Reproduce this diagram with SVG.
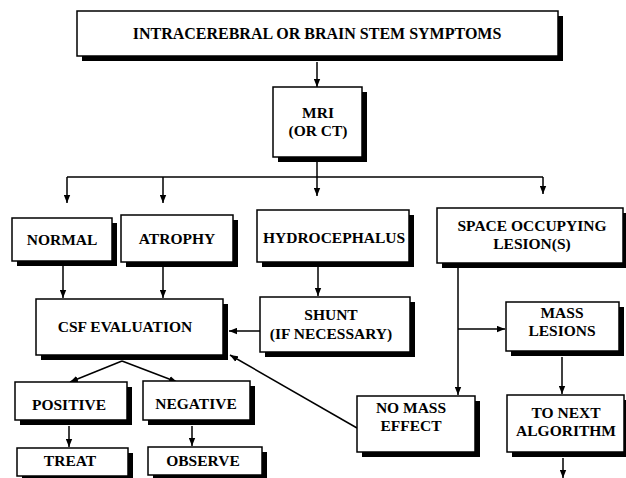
<svg xmlns="http://www.w3.org/2000/svg" width="626" height="478" viewBox="0 0 626 478">
<defs>
<marker id="ah" viewBox="0 0 10 8" refX="10" refY="4" markerWidth="8" markerHeight="7" markerUnits="userSpaceOnUse" orient="auto">
<path d="M0,0 L10,4 L0,8 Z" fill="#000"/>
</marker>
<style>
.sh{fill:#000}
.bx{fill:#fff;stroke:#000;stroke-width:1.5}
.t{font-family:"Liberation Serif","Times New Roman",serif;font-weight:bold;font-size:15.5px;text-anchor:middle;fill:#000}
.c{stroke:#000;stroke-width:1.5;fill:none}
.a{marker-end:url(#ah)}
</style>
</defs>
<rect width="626" height="478" fill="#fff"/>
<g id="connectors">
<line class="c a" x1="317" y1="62" x2="317" y2="87"/>
<line class="c a" x1="317" y1="162" x2="317" y2="196"/>
<line class="c" x1="67" y1="177" x2="543" y2="177"/>
<line class="c a" x1="67" y1="177" x2="67" y2="203"/>
<line class="c a" x1="163" y1="177" x2="163" y2="203"/>
<line class="c a" x1="543" y1="177" x2="543" y2="194"/>
<line class="c a" x1="63" y1="266" x2="63" y2="298"/>
<line class="c a" x1="163" y1="266" x2="163" y2="298"/>
<line class="c a" x1="318" y1="267" x2="318" y2="296"/>
<line class="c a" x1="260" y1="331" x2="229" y2="331"/>
<line class="c a" x1="458" y1="268" x2="458" y2="395"/>
<line class="c a" x1="458" y1="329" x2="505" y2="329"/>
<line class="c a" x1="562" y1="357" x2="562" y2="394"/>
<line class="c a" x1="563" y1="458" x2="563" y2="478"/>
<line class="c a" x1="357" y1="428" x2="230" y2="355"/>
<line class="c a" x1="122" y1="361" x2="70" y2="382"/>
<line class="c a" x1="122" y1="361" x2="177" y2="382"/>
<line class="c a" x1="69" y1="426" x2="69" y2="447"/>
<line class="c a" x1="192" y1="426" x2="192" y2="446"/>
</g>
<g id="top">
<rect class="sh" x="82" y="16" width="481" height="45"/>
<rect class="bx" x="77" y="11" width="481" height="45"/>
<text class="t" x="317" y="39" style="font-size:16px">INTRACEREBRAL OR BRAIN STEM SYMPTOMS</text>
</g>
<g id="mri">
<rect class="sh" x="278" y="92" width="89" height="70"/>
<rect class="bx" x="273" y="87" width="89" height="70"/>
<text class="t" x="318" y="118">MRI</text>
<text class="t" x="318" y="136">(OR CT)</text>
</g>
<g id="normal">
<rect class="sh" x="17" y="223" width="100" height="43"/>
<rect class="bx" x="12" y="218" width="100" height="43"/>
<text class="t" x="62" y="245">NORMAL</text>
</g>
<g id="atrophy">
<rect class="sh" x="126" y="220" width="112" height="47"/>
<rect class="bx" x="121" y="215" width="112" height="47"/>
<text class="t" x="177" y="244">ATROPHY</text>
</g>
<g id="hydrocephalus">
<rect class="sh" x="262" y="215" width="152" height="52"/>
<rect class="bx" x="257" y="210" width="152" height="52"/>
<text class="t" x="334" y="243">HYDROCEPHALUS</text>
</g>
<g id="space-occupying">
<rect class="sh" x="442" y="213" width="186" height="55"/>
<rect class="bx" x="437" y="208" width="186" height="55"/>
<text class="t" x="532" y="231">SPACE OCCUPYING</text>
<text class="t" x="532" y="249">LESION(S)</text>
</g>
<g id="csf">
<rect class="sh" x="41" y="304" width="187" height="56"/>
<rect class="bx" x="36" y="299" width="187" height="56"/>
<text class="t" x="125" y="332">CSF EVALUATION</text>
</g>
<g id="shunt">
<rect class="sh" x="265" y="302" width="150" height="55"/>
<rect class="bx" x="260" y="297" width="150" height="55"/>
<text class="t" x="331" y="320">SHUNT</text>
<text class="t" x="331" y="339">(IF NECESSARY)</text>
</g>
<g id="mass">
<rect class="sh" x="511" y="307" width="113" height="49"/>
<rect class="bx" x="506" y="302" width="113" height="49"/>
<text class="t" x="562" y="318">MASS</text>
<text class="t" x="562" y="336">LESIONS</text>
</g>
<g id="positive">
<rect class="sh" x="20" y="387" width="112" height="38"/>
<rect class="bx" x="15" y="382" width="112" height="38"/>
<text class="t" x="69" y="410">POSITIVE</text>
</g>
<g id="negative">
<rect class="sh" x="148" y="386" width="107" height="39"/>
<rect class="bx" x="143" y="381" width="107" height="39"/>
<text class="t" x="196" y="409">NEGATIVE</text>
</g>
<g id="no-mass">
<rect class="sh" x="362" y="401" width="118" height="56"/>
<rect class="bx" x="357" y="396" width="118" height="56"/>
<text class="t" x="411" y="413">NO MASS</text>
<text class="t" x="411" y="431">EFFECT</text>
</g>
<g id="to-next">
<rect class="sh" x="512" y="400" width="117" height="57"/>
<rect class="bx" x="507" y="395" width="117" height="57"/>
<text class="t" x="566" y="418">TO NEXT</text>
<text class="t" x="566" y="436">ALGORITHM</text>
</g>
<g id="treat">
<rect class="sh" x="22" y="453" width="111" height="28"/>
<rect class="bx" x="17" y="448" width="111" height="28"/>
<text class="t" x="70" y="466">TREAT</text>
</g>
<g id="observe">
<rect class="sh" x="153" y="452" width="114" height="28"/>
<rect class="bx" x="148" y="447" width="114" height="28"/>
<text class="t" x="203" y="466">OBSERVE</text>
</g>
</svg>
